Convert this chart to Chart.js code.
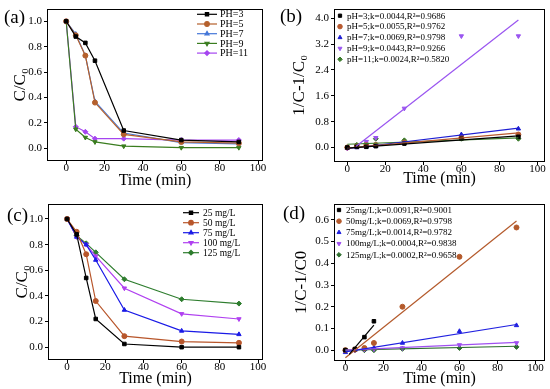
<!DOCTYPE html>
<html>
<head>
<meta charset="utf-8">
<script src="https://cdn.jsdelivr.net/npm/chart.js@4.4.1/dist/chart.umd.min.js"></script>
<style>
  body { margin: 0; background: #fff; width: 550px; height: 389px; position: relative; overflow: hidden; }
  .panel { position: absolute; }
</style>
</head>
<body>
<div class="panel" style="left:0;top:0"><canvas id="chart-a" width="275" height="195"></canvas></div>
<div class="panel" style="left:275px;top:0"><canvas id="chart-b" width="275" height="195"></canvas></div>
<div class="panel" style="left:0;top:195px"><canvas id="chart-c" width="275" height="194"></canvas></div>
<div class="panel" style="left:275px;top:195px"><canvas id="chart-d" width="275" height="194"></canvas></div>
<script>
const times = [0, 5, 10, 15, 30, 60, 90];
const timeTicks = [0, 20, 40, 60, 80, 100];
const ratioTicks = [0, 0.2, 0.4, 0.6, 0.8, 1.0];

// (a) C/C0 vs time at different pH
const phNames = ['PH=3', 'PH=5', 'PH=7', 'PH=9', 'PH=11'];
const ratioPh3 = [1.0, 0.88, 0.83, 0.69, 0.14, 0.065, 0.05];
const ratioPh5 = [1.0, 0.89, 0.73, 0.36, 0.11, 0.05, 0.04];
const ratioPh7 = [1.0, 0.90, 0.73, 0.37, 0.12, 0.045, 0.035];
const ratioPh9 = [1.0, 0.15, 0.085, 0.05, 0.017, 0.005, 0.005];
const ratioPh11 = [1.0, 0.17, 0.13, 0.076, 0.076, 0.065, 0.065];

// (b) 1/C-1/C0 at different pH, plus fitted lines
const kinPhNames = ['pH=3;k=0.0044,R²=0.9686', 'pH=5;k=0.0055,R²=0.9762', 'pH=7;k=0.0069,R²=0.9798',
  'pH=9;k=0.0443,R²=0.9266', 'pH=11;k=0.0024,R²=0.5820'];
const kinPh3 = [0, 0.02, 0.02, 0.04, 0.12, 0.27, 0.33];
const kinPh5 = [0, 0.04, 0.07, 0.08, 0.15, 0.30, 0.40];
const kinPh7 = [-0.02, 0.0, 0.02, 0.04, 0.15, 0.40, 0.58];
const kinPh9 = [-0.03, 0.05, 0.18, 0.30, 1.21, 3.45, 3.45];
const kinPh11 = [0.0, 0.08, 0.12, 0.27, 0.22, 0.27, 0.27];
const fitPhX = [[0, 90], [0, 90], [0, 90], [4.5, 90], [0, 90]];
const fitPhY = [[-0.02, 0.36], [-0.02, 0.45], [-0.04, 0.60], [0.03, 3.95], [0.10, 0.30]];
const kinPhTicks = [0, 0.8, 1.6, 2.4, 3.2, 4.0];

// (c) C/C0 vs time at different initial concentration
const concNames = ['25 mg/L', '50 mg/L', '75 mg/L', '100 mg/L', '125 mg/L'];
const ratio25 = [1.0, 0.88, 0.54, 0.22, 0.025, 0.0, 0.0];
const ratio50 = [1.0, 0.90, 0.725, 0.36, 0.086, 0.044, 0.034];
const ratio75 = [1.0, 0.86, 0.80, 0.68, 0.29, 0.127, 0.10];
const ratio100 = [1.0, 0.86, 0.80, 0.71, 0.46, 0.26, 0.22];
const ratio125 = [1.0, 0.87, 0.81, 0.74, 0.53, 0.374, 0.34];

// (d) 1/C-1/C0 at different concentration, plus fitted lines
const kinConcNames = ['25mg/L;k=0.0091,R²=0.9001', '50mg/L;k=0.0069,R²=0.9798', '75mg/L;k=0.0014,R²=0.9782',
  '100mg/L;k=0.0004,R²=0.9838', '125mg/L;k=0.0002,R²=0.9658'];
const times25 = [0, 5, 10, 15];
const kin25 = [0, 0.005, 0.06, 0.133];
const kin50 = [0, 0.003, 0.01, 0.033, 0.20, 0.43, 0.565];
const kin75 = [-0.01, 0.0, 0.005, 0.01, 0.033, 0.087, 0.114];
const kin100 = [0, 0.0, 0.003, 0.005, 0.01, 0.024, 0.033];
const kin125 = [0, 0, 0, 0, 0.006, 0.01, 0.015];
const fitConcX = [[2, 15], [0, 90], [0, 90], [0, 90], [0, 90]];
const fitConcY = [[-0.02, 0.115], [-0.035, 0.595], [-0.008, 0.118], [0, 0.036], [0, 0.018]];
const kinConcTicks = [0, 0.1, 0.2, 0.3, 0.4, 0.5, 0.6];

const FONT = "'Liberation Serif', 'Times New Roman', serif";
const markers = [
  { style: 'rect', rot: 0 },
  { style: 'circle', rot: 0 },
  { style: 'triangle', rot: 0 },
  { style: 'triangle', rot: 180 },
  { style: 'rectRot', rot: 0 },
];

function pairs(xs, ys) {
  return ys.map((y, i) => ({ x: xs[i], y: y }));
}

// frame, inset legend and panel letter
const panelDecor = {
  id: 'panelDecor',
  afterDraw(chart, args, opts) {
    const { ctx, chartArea: a } = chart;
    ctx.save();
    ctx.strokeStyle = '#000';
    ctx.lineWidth = 1;
    ctx.strokeRect(Math.round(a.left) + 0.5, Math.round(a.top) + 0.5,
      Math.round(a.right - a.left) - 1, Math.round(a.bottom - a.top) - 1);

    ctx.font = `${opts.fontSize}px ${FONT}`;
    ctx.textBaseline = 'middle';
    ctx.textAlign = 'left';
    const items = chart.data.datasets.filter((d) => d.inLegend);
    items.forEach((d, i) => {
      const y = opts.y + i * opts.step;
      ctx.strokeStyle = d.borderColor;
      ctx.fillStyle = d.pointBackgroundColor;
      const mark = { pointStyle: d.pointStyle, rotation: d.pointRotation, radius: 2.3, borderWidth: 1 };
      if (opts.line) {
        ctx.lineWidth = 1.2;
        ctx.beginPath();
        ctx.moveTo(opts.x1, y);
        ctx.lineTo(opts.x2, y);
        ctx.stroke();
        Chart.helpers.drawPoint(ctx, mark, (opts.x1 + opts.x2) / 2, y);
      } else {
        Chart.helpers.drawPoint(ctx, mark, opts.x1, y);
      }
      ctx.fillStyle = '#000';
      ctx.fillText(d.label, opts.tx, y + 0.5);
    });

    ctx.font = `19px ${FONT}`;
    ctx.fillStyle = '#000';
    ctx.fillText(opts.tag, opts.tagX, opts.tagY);
    ctx.restore();
  },
};

function seriesSet(names, xsList, valuesList, colors, showLine) {
  return valuesList.map((vals, i) => ({
    type: showLine ? 'line' : 'scatter',
    label: names[i],
    inLegend: true,
    data: pairs(xsList[i], vals),
    showLine: showLine,
    borderColor: colors[i],
    backgroundColor: colors[i],
    pointBackgroundColor: colors[i],
    pointBorderColor: colors[i],
    borderWidth: 1.2,
    pointStyle: markers[i].style,
    pointRotation: markers[i].rot,
    pointRadius: 2.5,
    pointBorderWidth: 1,
    order: 1,
  }));
}

function fitSet(xs, ys, colors) {
  return xs.map((x, i) => ({
    type: 'line',
    label: '',
    inLegend: false,
    data: pairs(x, ys[i]),
    borderColor: colors[i],
    borderWidth: 1.2,
    pointRadius: 0,
    order: 0,
  }));
}

function makePanel(id, p) {
  const tickFont = { family: FONT, size: 11 };
  return new Chart(document.getElementById(id), {
    type: 'line',
    data: { datasets: p.datasets },
    plugins: [panelDecor],
    options: {
      responsive: false,
      animation: false,
      devicePixelRatio: 1,
      layout: { padding: { left: 0, top: p.padTop, right: p.padRight, bottom: 0 } },
      plugins: {
        legend: { display: false },
        tooltip: { enabled: false },
        panelDecor: p.legend,
      },
      scales: {
        x: {
          type: 'linear',
          min: p.xMin,
          max: p.xMax,
          afterBuildTicks: (s) => { s.ticks = timeTicks.map((v) => ({ value: v })); },
          afterFit: (s) => { s.height = p.xH; },
          grid: { drawOnChartArea: false, tickLength: 3, tickColor: '#000', tickWidth: 1 },
          border: { display: false },
          ticks: { color: '#000', font: tickFont, padding: -2, maxRotation: 0 },
          title: { display: true, text: 'Time (min)', color: '#000', font: { family: FONT, size: 16 },
            padding: { top: 0, bottom: p.xTitlePad } },
        },
        y: {
          type: 'linear',
          min: p.yMin,
          max: p.yMax,
          afterBuildTicks: (s) => { s.ticks = p.yTicks.map((v) => ({ value: v })); },
          afterFit: (s) => { s.width = p.yW; },
          grid: { drawOnChartArea: false, tickLength: 3, tickColor: '#000', tickWidth: 1 },
          border: { display: false },
          ticks: { color: '#000', font: tickFont, padding: 2, callback: (v) => v.toFixed(1) },
          title: { display: true, text: p.yTitle, color: '#000', font: { family: FONT, size: 17 },
            padding: { top: p.yTitlePad, bottom: 0 } },
        },
      },
    },
  });
}

const colorsA = ['#000000', '#b5602c', '#4477d8', '#3a7d1f', '#a545f0'];
const colorsB = ['#000000', '#b85a30', '#1e1ed2', '#9a55f0', '#3a7a2a'];
const colorsC = ['#000000', '#b8562b', '#1a1ae6', '#b040f0', '#2e7d2e'];
const colorsD = ['#000000', '#b45a2c', '#2020e0', '#a050f0', '#2e6f2e'];
const allTimes = [times, times, times, times, times];

makePanel('chart-a', {
  datasets: seriesSet(phNames, allTimes, [ratioPh3, ratioPh5, ratioPh7, ratioPh9, ratioPh11], colorsA, true),
  xMin: -10, xMax: 102.6, yMin: -0.1, yMax: 1.1, yTicks: ratioTicks,
  padTop: 7, padRight: 12, xH: 34, yW: 47, xTitlePad: 5, yTitlePad: 10,
  yTitle: 'C/C₀',
  legend: { line: true, x1: 197, x2: 217, tx: 220, y: 14.3, step: 9.7, fontSize: 10,
    tag: '(a)', tagX: 4, tagY: 18 },
});

makePanel('chart-b', {
  datasets: seriesSet(kinPhNames, allTimes, [kinPh3, kinPh5, kinPh7, kinPh9, kinPh11], colorsB, false)
    .concat(fitSet(fitPhX, fitPhY, colorsB)),
  xMin: -7, xMax: 104, yMin: -0.45, yMax: 4.3, yTicks: kinPhTicks,
  padTop: 3, padRight: 2, xH: 33, yW: 59, xTitlePad: 7, yTitlePad: 14,
  yTitle: '1/C-1/C₀',
  legend: { line: false, x1: 65, tx: 72, y: 15.7, step: 10.9, fontSize: 9,
    tag: '(b)', tagX: 5, tagY: 17 },
});

makePanel('chart-c', {
  datasets: seriesSet(concNames, allTimes, [ratio25, ratio50, ratio75, ratio100, ratio125], colorsC, true),
  xMin: -10, xMax: 102.6, yMin: -0.1, yMax: 1.12, yTicks: ratioTicks,
  padTop: 8, padRight: 12, xH: 29, yW: 48, xTitlePad: 1, yTitlePad: 12,
  yTitle: 'C/C₀',
  legend: { line: true, x1: 183, x2: 199, tx: 203, y: 17.7, step: 10, fontSize: 9.5,
    tag: '(c)', tagX: 7, tagY: 21 },
});

makePanel('chart-d', {
  datasets: seriesSet(kinConcNames, [times25, times, times, times, times], [kin25, kin50, kin75, kin100, kin125], colorsD, false)
    .concat(fitSet(fitConcX, fitConcY, colorsD)),
  xMin: -6, xMax: 105, yMin: -0.05, yMax: 0.675, yTicks: kinConcTicks,
  padTop: 4, padRight: 2, xH: 28, yW: 59, xTitlePad: 1, yTitlePad: 16,
  yTitle: '1/C-1/C0',
  legend: { line: false, x1: 64, tx: 71, y: 15, step: 11.2, fontSize: 9,
    tag: '(d)', tagX: 8, tagY: 19 },
});
</script>
</body>
</html>
